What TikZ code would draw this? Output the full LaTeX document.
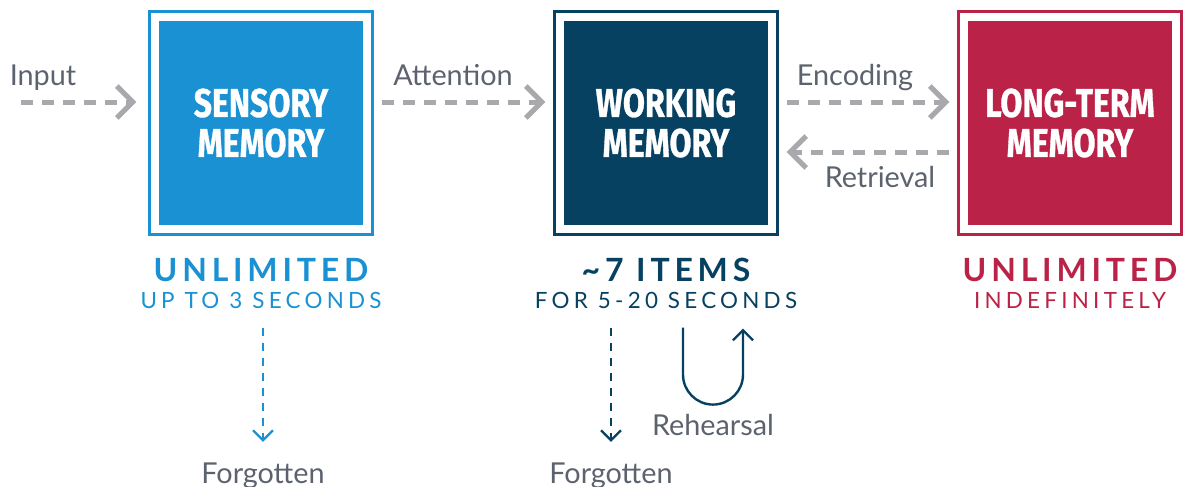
\documentclass[tikz,border=0pt]{standalone}
\usepackage{fontspec}
\setmainfont{Lato}
\newfontfamily\boxfont{Fira Sans}[FakeStretch=0.8,BoldFeatures={FakeBold=0.8}]
\usetikzlibrary{arrows.meta,positioning,calc,fit}
\definecolor{sensoryblue}{RGB}{26,145,210}
\definecolor{workingnavy}{RGB}{6,65,98}
\definecolor{longtermred}{RGB}{187,34,71}
\definecolor{flowgray}{RGB}{168,168,173}
\definecolor{labelgray}{RGB}{93,99,110}
\tikzset{
  memorybox/.style={
    fill=#1,text=white,minimum size=102pt,inner sep=0pt,align=center,
    font=\boxfont\bfseries\fontsize{20}{20}\selectfont
  },
  memoryframe/.style={draw=#1,line width=1.3pt,inner sep=4.5pt},
  flowlabel/.style={text=labelgray,inner sep=0pt,font=\fontsize{14.4}{16}\selectfont},
  capacity/.style={text=#1,inner sep=0pt,
    font=\addfontfeatures{LetterSpace=15}\bfseries\fontsize{16}{18}\selectfont},
  duration/.style={text=#1,inner sep=0pt,
    font=\addfontfeatures{LetterSpace=19}\fontsize{11.2}{12}\selectfont},
  flowarrow/.style={draw=flowgray,line width=2.5pt,dash pattern=on 6pt off 4.5pt,
    -{Straight Barb[length=8pt,width=16pt]},shorten <=4pt,shorten >=4pt},
  forgetarrow/.style={draw=#1,line width=1.2pt,dash pattern=on 4pt off 3.5pt,
    -{Straight Barb[length=5pt,width=10pt]},shorten <=9.5pt,shorten >=10pt},
  loopline/.style={draw=workingnavy,line width=1.2pt,-{Straight Barb[length=5pt,width=10pt]}}
}
\begin{document}
\begin{tikzpicture}[x=0.5pt,y=-0.5pt]
  \useasboundingbox (0,0) rectangle (1189,487);
  % the three stores
  \node[memorybox=sensoryblue] (sm) at (261,123) {SENSORY\\MEMORY};
  \node[memorybox=workingnavy] (wm) at (666,123) {WORKING\\MEMORY};
  \node[memorybox=longtermred] (lm) at (1070,123) {LONG-TERM\\MEMORY};
  \node[memoryframe=sensoryblue,fit=(sm)] (smframe) {};
  \node[memoryframe=workingnavy,fit=(wm)] (wmframe) {};
  \node[memoryframe=longtermred,fit=(lm)] (lmframe) {};

  % flow between the stores
  \coordinate (in) at (13,102);
  \draw[flowarrow,shorten >=6pt] (in) -- (in -| smframe.west);
  \draw[flowarrow] (smframe.east |- in) -- (wmframe.west |- in);
  \draw[flowarrow] (wmframe.east |- in) -- (lmframe.west |- in);
  \draw[flowarrow] ($(lmframe.west)+(0,29)$) -- ($(wmframe.east)+(0,29)$);
  \node[flowlabel,anchor=base] (inputlbl) at (43,85) {Input};
  \node[flowlabel,anchor=base] (attnlbl) at (453,85) {Attention};
  \node[flowlabel,anchor=base] (enclbl) at (855,85) {Encoding};
  \node[flowlabel,anchor=base] (retlbl) at (880,187) {Retrieval};

  % capacity and duration
  \node[capacity=sensoryblue,anchor=base] (smcap) at (261,281) {UNLIMITED};
  \node[duration=sensoryblue,anchor=base] (smdur) at (261,308) {UP TO 3 SECONDS};
  \node[capacity=workingnavy,anchor=base] (wmcap) at (666,281) {\char`\~7 ITEMS};
  \node[duration=workingnavy,anchor=base] (wmdur) at (666,308) {FOR 5-20 SECONDS};
  \node[capacity=longtermred,anchor=base] (lmcap) at (1070,281) {UNLIMITED};
  \node[duration=longtermred,anchor=base] (lmdur) at (1070,308) {INDEFINITELY};

  % forgetting and rehearsal
  \node[flowlabel,anchor=base] (smforgot) at (263,483) {Forgotten};
  \node[flowlabel,anchor=base] (wmforgot) at (611,483) {Forgotten};
  \node[flowlabel,anchor=base] (rehlbl) at (713,435) {Rehearsal};
  \draw[forgetarrow=sensoryblue] (smforgot.north |- smdur.south) -- (smforgot.north);
  \draw[forgetarrow=workingnavy] (wmforgot.north |- wmdur.south) -- (wmforgot.north);
  \draw[loopline] ($(rehlbl.north |- wmdur.south)+(-30,19)$) -- ++(0,47)
    arc[start angle=180,end angle=0,radius=30] -- ++(0,-46);
\end{tikzpicture}
\end{document}
